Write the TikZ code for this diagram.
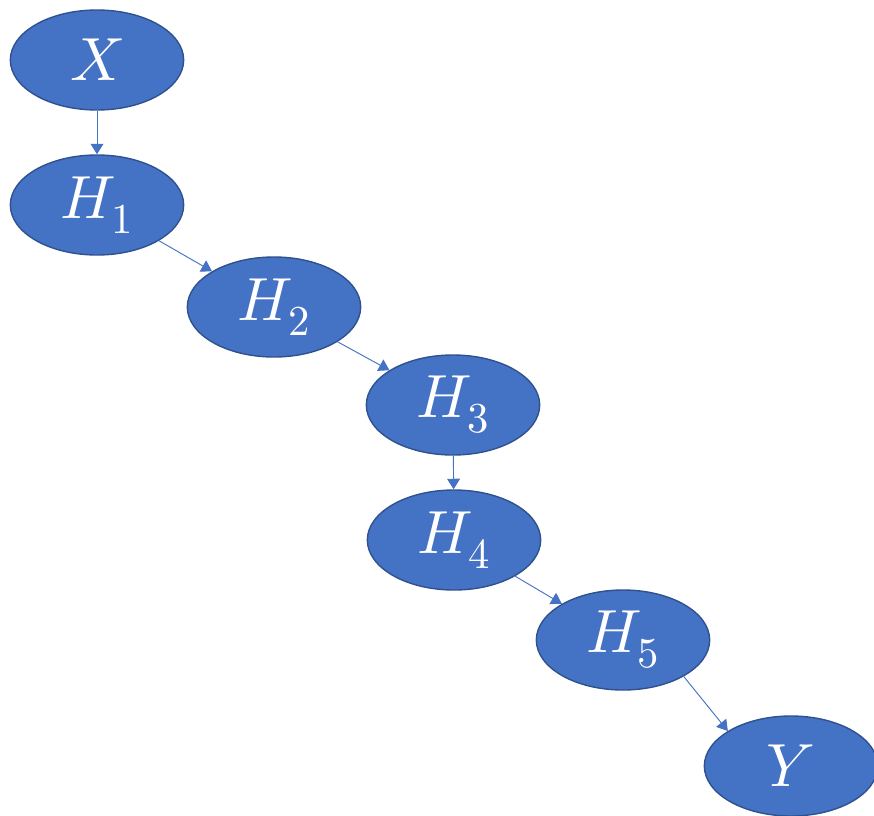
\documentclass[tikz,border=0pt]{standalone}
\usepackage{unicode-math}
\usetikzlibrary{arrows.meta,shapes.geometric}
\definecolor{nodeblue}{HTML}{4472C4}
\definecolor{nodeedge}{HTML}{2F528F}

\begin{document}
\begin{tikzpicture}[x=0.03cm, y=-0.03cm, every node/.style={ellipse, draw=nodeedge, fill=nodeblue, line width=1.2pt, minimum width=5.2cm, minimum height=3cm, inner sep=0pt, text=white, font=\fontsize{52}{58}\selectfont}, link/.style={draw=nodeblue, line width=0.8pt, -{Triangle[width=11pt,length=9pt]}}]
    \useasboundingbox (0,0) rectangle (874,815);
    \node (X) at (97,60) {$X$};
    \node (H1) at (97,205) {$H_{1}$};
    \node (H2) at (274,307) {$H_{2}$};
    \node (H3) at (453,405) {$H_{3}$};
    \node (H4) at (454,540) {$H_{4}$};
    \node (H5) at (623,640) {$H_{5}$};
    \node (Y) at (791,766) {$Y$};
        \draw[link] (X) -- (H1);
        \draw[link] (H1) -- (H2);
        \draw[link] (H2) -- (H3);
        \draw[link] (H3) -- (H4);
        \draw[link] (H4) -- (H5);
        \draw[link] (H5.-31) -- (Y.151);
\end{tikzpicture}
\end{document}
